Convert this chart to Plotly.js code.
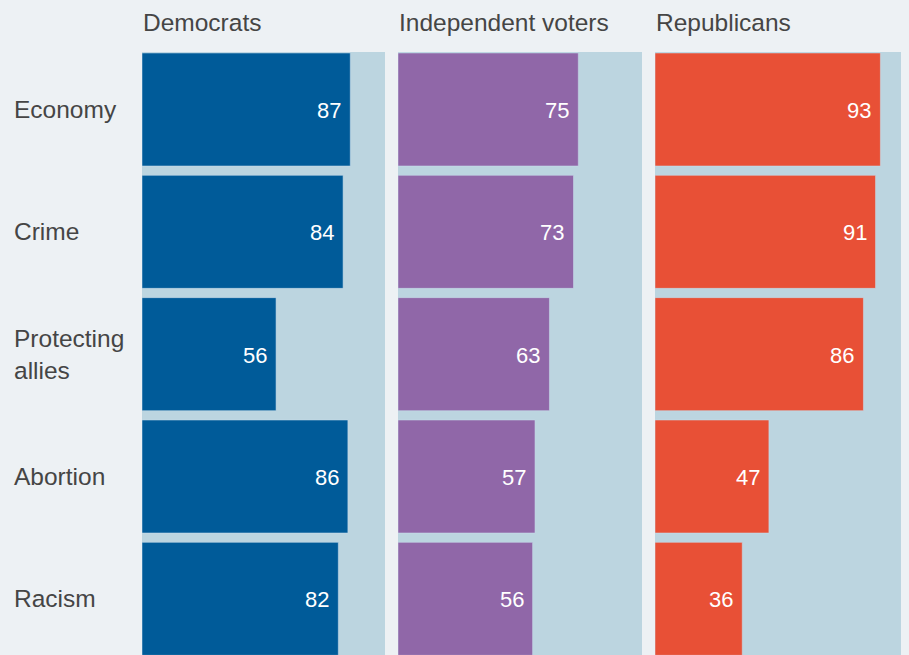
<!DOCTYPE html>
<html>
<head>
<meta charset="utf-8">
<script src="https://cdn.plot.ly/plotly-3.0.1.min.js"></script>
<style>
html,body{margin:0;padding:0;background:#edf1f4;}
#chart{width:909px;height:655px;}
</style>
</head>
<body>
<div id="chart"></div>
<script>
const categories = ['Economy', 'Crime', 'Protecting allies', 'Abortion', 'Racism'];
const categoryLabels = ['Economy', 'Crime', 'Protecting<br>allies', 'Abortion', 'Racism'];
const groups = ['Democrats', 'Independent voters', 'Republicans'];
const democrats = [87, 84, 56, 86, 82];
const independents = [75, 73, 63, 57, 56];
const republicans = [93, 91, 86, 47, 36];

const seriesValues = [democrats, independents, republicans];
const colors = ['#005b99', '#9067a8', '#e85036'];
const W = 909, H = 655, topMargin = 52;
const domainsPx = [[142, 385], [398, 642], [655, 901]];
const fontFam = 'Liberation Sans, Arial, Helvetica, sans-serif';
const textColor = '#454545';

const data = [];
const annotations = [];
const layout = {
  width: W, height: H,
  margin: {l: 0, r: 0, t: topMargin, b: 0},
  paper_bgcolor: '#edf1f4',
  plot_bgcolor: '#bcd5e0',
  showlegend: false,
  bargap: 0.076,
  font: {family: fontFam, color: textColor}
};

seriesValues.forEach((vals, i) => {
  const sx = i === 0 ? '' : String(i + 1);
  data.push({
    type: 'bar', orientation: 'h',
    x: vals, y: categories,
    xaxis: 'x' + sx, yaxis: 'y' + sx,
    marker: {color: colors[i], line: {color: 'rgba(200,220,235,0.55)', width: 1}},
    hoverinfo: 'skip'
  });
  layout['xaxis' + sx] = {
    domain: [domainsPx[i][0] / W, domainsPx[i][1] / W],
    range: [0, 101.5], showgrid: false, zeroline: false,
    showticklabels: false, ticks: '', fixedrange: true
  };
  layout['yaxis' + sx] = {
    domain: [0, 1], type: 'category',
    range: [4.459, -0.47], showgrid: false, zeroline: false,
    showticklabels: false, ticks: '', fixedrange: true,
    anchor: 'x' + sx
  };
  vals.forEach((v, j) => {
    annotations.push({
      xref: 'x' + sx, yref: 'y' + sx, x: v, y: categories[j],
      text: String(v), showarrow: false, xanchor: 'right', yanchor: 'middle',
      xshift: -7, yshift: -1, font: {family: fontFam, size: 22, color: '#ffffff'}
    });
  });
  annotations.push({
    xref: 'paper', yref: 'paper',
    x: (domainsPx[i][0] - 1) / W, y: 1 + (topMargin - 22) / (H - topMargin),
    text: groups[i], showarrow: false, xanchor: 'left', yanchor: 'middle',
    font: {family: fontFam, size: 24.5, color: textColor}
  });
});

categories.forEach((c, j) => {
  annotations.push({
    xref: 'paper', yref: 'y', x: 12 / W, y: c,
    text: categoryLabels[j], showarrow: false, xanchor: 'left', yanchor: 'middle',
    align: 'left',
    font: {family: fontFam, size: 24.5, color: textColor}
  });
});

layout.annotations = annotations;
Plotly.newPlot('chart', data, layout, {staticPlot: true, displayModeBar: false});
</script>
</body>
</html>
